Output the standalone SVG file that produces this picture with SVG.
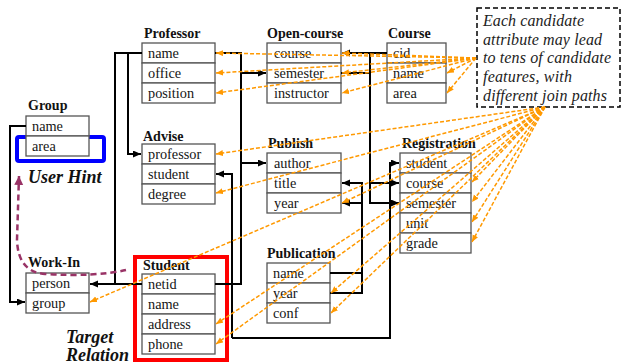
<svg xmlns="http://www.w3.org/2000/svg" width="621" height="364" viewBox="0 0 621 364">
<style>
.box{fill:#fff;stroke:#555;stroke-width:1.3}
.t{font-family:"Liberation Serif","Times New Roman",serif;font-size:14.3px;fill:#151515}
.h{font-family:"Liberation Serif","Times New Roman",serif;font-size:14px;font-weight:bold;fill:#111}
.bi{font-family:"Liberation Serif","Times New Roman",serif;font-size:18px;font-weight:bold;font-style:italic;fill:#111}
.it{font-family:"Liberation Serif","Times New Roman",serif;font-size:16px;font-style:italic;fill:#222}
.k{fill:none;stroke:#000;stroke-width:2}
.o{fill:none;stroke:#FF9900;stroke-width:1.5;stroke-dasharray:4,2}
</style>
<defs>
<marker id="ab" markerUnits="userSpaceOnUse" markerWidth="9" markerHeight="8" refX="8" refY="3.5" orient="auto"><path d="M0,0 L8,3.5 L0,7 z" fill="#000"/></marker>
<marker id="ao" markerUnits="userSpaceOnUse" markerWidth="9" markerHeight="8" refX="7" refY="3" orient="auto"><path d="M0,0 L7,3 L0,6 z" fill="#FF9900"/></marker>
<marker id="ap" markerUnits="userSpaceOnUse" markerWidth="12" markerHeight="10" refX="9" refY="4.5" orient="auto"><path d="M0,0 L9,4.5 L0,9 z" fill="#993366"/></marker>
</defs>

<!-- highlights -->
<rect x="17" y="137" width="87" height="24" rx="2" fill="none" stroke="#0000FF" stroke-width="4"/>
<rect x="135" y="257" width="92" height="103" fill="none" stroke="#FF0000" stroke-width="4"/>

<g id="group">
<text class="h" x="28" y="110">Group</text>
<rect class="box" x="26" y="116" width="63" height="20"/><rect class="box" x="26" y="136" width="63" height="20"/>
<text class="t" x="32" y="131">name</text><text class="t" x="32" y="151">area</text>
</g>
<g id="professor">
<text class="h" x="144" y="38">Professor</text>
<rect class="box" x="142" y="43" width="73" height="20"/><rect class="box" x="142" y="63" width="73" height="20"/><rect class="box" x="142" y="83" width="73" height="20"/>
<text class="t" x="148" y="58">name</text><text class="t" x="148" y="78">office</text><text class="t" x="148" y="98">position</text>
</g>
<g id="advise">
<text class="h" x="143" y="141">Advise</text>
<rect class="box" x="142" y="144" width="73" height="20"/><rect class="box" x="142" y="164" width="73" height="20"/><rect class="box" x="142" y="184" width="73" height="20"/>
<text class="t" x="148" y="159">professor</text><text class="t" x="148" y="179">student</text><text class="t" x="148" y="199">degree</text>
</g>
<g id="open-course">
<text class="h" x="267" y="38">Open-course</text>
<rect class="box" x="267" y="43" width="74" height="20"/><rect class="box" x="267" y="63" width="74" height="20"/><rect class="box" x="267" y="83" width="74" height="20"/>
<text class="t" x="274" y="58">course</text><text class="t" x="274" y="78">semester</text><text class="t" x="274" y="98">instructor</text>
</g>
<g id="course">
<text class="h" x="388" y="38">Course</text>
<rect class="box" x="387" y="43" width="59" height="20"/><rect class="box" x="387" y="63" width="59" height="20"/><rect class="box" x="387" y="83" width="59" height="20"/>
<text class="t" x="393" y="58">cid</text><text class="t" x="393" y="78">name</text><text class="t" x="393" y="98">area</text>
</g>
<g id="publish">
<text class="h" x="268" y="148">Publish</text>
<rect class="box" x="267" y="153" width="74" height="20"/><rect class="box" x="267" y="173" width="74" height="20"/><rect class="box" x="267" y="193" width="74" height="20"/>
<text class="t" x="274" y="168">author</text><text class="t" x="274" y="188">title</text><text class="t" x="274" y="208">year</text>
</g>
<g id="registration">
<text class="h" x="402" y="148">Registration</text>
<rect class="box" x="400" y="153" width="71" height="20"/><rect class="box" x="400" y="173" width="71" height="20"/><rect class="box" x="400" y="193" width="71" height="20"/><rect class="box" x="400" y="213" width="71" height="20"/><rect class="box" x="400" y="233" width="71" height="20"/>
<text class="t" x="406" y="168">student</text><text class="t" x="406" y="188">course</text><text class="t" x="406" y="208">semester</text><text class="t" x="406" y="228">unit</text><text class="t" x="406" y="248">grade</text>
</g>
<g id="publication">
<text class="h" x="267" y="258">Publication</text>
<rect class="box" x="267" y="263" width="63" height="20"/><rect class="box" x="267" y="283" width="63" height="20"/><rect class="box" x="267" y="303" width="63" height="20"/>
<text class="t" x="273" y="278">name</text><text class="t" x="273" y="298">year</text><text class="t" x="273" y="318">conf</text>
</g>
<g id="student">
<text class="h" x="143" y="270">Student</text>
<rect class="box" x="142" y="274" width="73" height="20"/><rect class="box" x="142" y="294" width="73" height="20"/><rect class="box" x="142" y="314" width="73" height="20"/><rect class="box" x="142" y="334" width="73" height="20"/>
<text class="t" x="148" y="289">netid</text><text class="t" x="148" y="309">name</text><text class="t" x="148" y="329">address</text><text class="t" x="148" y="349">phone</text>
</g>
<g id="work-in">
<text class="h" x="28" y="267">Work-In</text>
<rect class="box" x="26" y="273" width="63" height="20"/><rect class="box" x="26" y="293" width="63" height="20"/>
<text class="t" x="32" y="288">person</text><text class="t" x="32" y="308">group</text>
</g>

<g id="callout">
<rect x="477" y="8" width="143" height="99" fill="#fff" stroke="#000" stroke-width="1.5" stroke-dasharray="5,3"/>
<text class="it" x="483" y="26" textLength="101">Each candidate</text>
<text class="it" x="483" y="45" textLength="119">attribute may lead</text>
<text class="it" x="483" y="63" textLength="128">to tens of candidate</text>
<text class="it" x="483" y="82" textLength="89">features, with</text>
<text class="it" x="483" y="101" textLength="124">different join paths</text>
</g>

<g id="labels">
<text class="bi" x="28" y="183">User Hint</text>
<text class="bi" x="66" y="343">Target</text>
<text class="bi" x="66" y="361">Relation</text>
</g>

<g id="connectors">
<path class="k" d="M142,53 H128 V154 H141" marker-end="url(#ab)"/>
<path class="k" d="M142,53 H115 V284 H90" marker-end="url(#ab)"/>
<path class="k" d="M142,284 H115"/>
<path class="k" d="M215,53 H241 V284 H215"/>
<path class="k" d="M241,73 H266" marker-end="url(#ab)"/>
<path class="k" d="M241,163 H266" marker-end="url(#ab)"/>
<path class="k" d="M232,338 V174 H216" marker-end="url(#ab)"/>
<path class="k" d="M232,338 H390 V163 H399" marker-end="url(#ab)"/>
<path class="k" d="M387,53 H342" marker-end="url(#ab)"/>
<path class="k" d="M370,53 V183 H399" marker-end="url(#ab)"/>
<path class="k" d="M341,73 H370 V203 H399" marker-end="url(#ab)"/>
<path class="k" d="M330,273 H362 V183 H342" marker-end="url(#ab)"/>
<path class="k" d="M330,293 H362 V203 H342" marker-end="url(#ab)"/>
<path class="k" d="M26,126 H10 V302 H25" marker-end="url(#ab)"/>
<path d="M126,270 Q95,277 45,274 Q18,272 17,240 L19,176" fill="none" stroke="#993366" stroke-width="2.5" stroke-dasharray="6,4" marker-end="url(#ap)"/>
<g id="hint-arrows">
<path class="o" d="M476,58 L216,53" marker-end="url(#ao)"/>
<path class="o" d="M476,58 L216,73" marker-end="url(#ao)"/>
<path class="o" d="M476,58 L216,93" marker-end="url(#ao)"/>
<path class="o" d="M476,58 L342,53" marker-end="url(#ao)"/>
<path class="o" d="M476,58 L342,73" marker-end="url(#ao)"/>
<path class="o" d="M476,58 L342,93" marker-end="url(#ao)"/>
<path class="o" d="M476,58 L447,73" marker-end="url(#ao)"/>
<path class="o" d="M476,58 L447,93" marker-end="url(#ao)"/>
<path class="o" d="M545,107 L216,154" marker-end="url(#ao)"/>
<path class="o" d="M545,107 L216,193" marker-end="url(#ao)"/>
<path class="o" d="M545,107 L342,203" marker-end="url(#ao)"/>
<path class="o" d="M545,107 L90,302" marker-end="url(#ao)"/>
<path class="o" d="M545,107 L216,324" marker-end="url(#ao)"/>
<path class="o" d="M545,107 L216,344" marker-end="url(#ao)"/>
<path class="o" d="M545,107 L331,293" marker-end="url(#ao)"/>
<path class="o" d="M545,107 L331,313" marker-end="url(#ao)"/>
<path class="o" d="M545,107 L472,182" marker-end="url(#ao)"/>
<path class="o" d="M545,107 L472,202" marker-end="url(#ao)"/>
<path class="o" d="M545,107 L472,222" marker-end="url(#ao)"/>
<path class="o" d="M545,107 L472,242" marker-end="url(#ao)"/>
</g>
</g>
</svg>
